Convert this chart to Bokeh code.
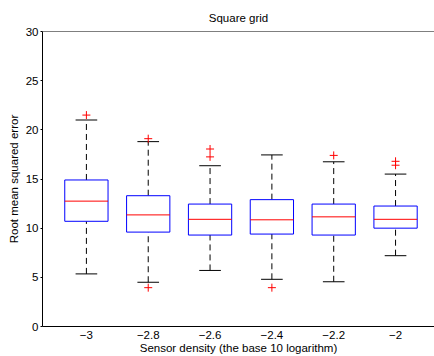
from bokeh.plotting import figure
from bokeh.models import Range1d, FixedTicker, Span, ColumnDataSource
from bokeh.embed import file_html
from bokeh.resources import INLINE

# ---- data ----
categories = ["\u22123", "\u22122.8", "\u22122.6", "\u22122.4", "\u22122.2", "\u22122"]
q1 = [10.7, 9.6, 9.3, 9.4, 9.3, 10.0]
median = [12.75, 11.35, 10.9, 10.85, 11.15, 10.9]
q3 = [14.9, 13.3, 12.45, 12.9, 12.45, 12.25]
lower_whisker = [5.35, 4.5, 5.7, 4.8, 4.55, 7.2]
upper_whisker = [21.0, 18.8, 16.35, 17.45, 16.75, 15.5]
outlier_group = [1, 2, 2, 3, 3, 4, 5, 6, 6]
outlier_value = [21.5, 19.1, 3.95, 18.05, 17.25, 3.95, 17.4, 16.8, 16.4]
y_ticks = [0, 5, 10, 15, 20, 25, 30]

FONT = "Liberation Sans"
BOX_W = 0.7
CAP_W = 0.35

pos = list(range(1, len(categories) + 1))

src = ColumnDataSource(dict(
    x=pos, q1=q1, med=median, q3=q3, lo=lower_whisker, hi=upper_whisker,
    bl=[p - BOX_W / 2 for p in pos], br=[p + BOX_W / 2 for p in pos],
    cl=[p - CAP_W / 2 for p in pos], cr=[p + CAP_W / 2 for p in pos],
))

p = figure(width=434, height=356, output_backend="svg", toolbar_location=None,
           x_range=Range1d(0.29, 6.63), y_range=Range1d(0, 30),
           min_border_left=42, min_border_right=0, min_border_top=31, min_border_bottom=30,
           title="Square grid")
p.outline_line_color = None
p.xgrid.visible = False
p.ygrid.visible = False
p.background_fill_color = "white"
p.border_fill_color = "white"

p.title.align = "center"
p.title.text_font = FONT
p.title.text_font_size = "11.5px"
p.title.text_font_style = "normal"
p.title.text_color = "black"
p.title.standoff = 16

# axes
xa = p.xaxis[0]
xa.ticker = FixedTicker(ticks=pos)
xa.major_label_overrides = {pp: c for pp, c in zip(pos, categories)}
xa.major_tick_out = 0
xa.major_tick_in = 0
xa.minor_tick_out = 0
xa.minor_tick_in = 0
xa.major_label_standoff = 4
xa.axis_label = "Sensor density (the base 10 logarithm)"
xa.axis_label_standoff = 0

ya = p.yaxis[0]
ya.ticker = FixedTicker(ticks=y_ticks)
ya.major_tick_out = 2
ya.major_tick_in = 0
ya.minor_tick_out = 0
ya.minor_tick_in = 0
ya.major_label_standoff = 2
ya.axis_label = "Root mean squared error"
ya.axis_label_standoff = 3

for ax in (xa, ya):
    ax.axis_line_color = "black"
    ax.axis_line_width = 1
    ax.major_tick_line_color = "black"
    ax.major_label_text_font = FONT
    ax.major_label_text_font_size = "11.5px"
    ax.major_label_text_color = "black"
    ax.axis_label_text_font = FONT
    ax.axis_label_text_font_size = "11.5px"
    ax.axis_label_text_font_style = "normal"
    ax.axis_label_text_color = "black"

# top frame line
p.add_layout(Span(location=30, dimension="width", line_color="black", line_width=1))

# whiskers (dashed)
p.segment(x0="x", x1="x", y0="q3", y1="hi", source=src, line_color="black",
          line_width=1, line_dash="6 4")
p.segment(x0="x", x1="x", y0="lo", y1="q1", source=src, line_color="black",
          line_width=1, line_dash="6 4")
# caps
p.segment(x0="cl", x1="cr", y0="hi", y1="hi", source=src, line_color="black", line_width=1)
p.segment(x0="cl", x1="cr", y0="lo", y1="lo", source=src, line_color="black", line_width=1)
# boxes
p.vbar(x="x", width=BOX_W, bottom="q1", top="q3", source=src,
       fill_color="white", line_color="#0000ff", line_width=1)
# medians
p.segment(x0="bl", x1="br", y0="med", y1="med", source=src, line_color="#ff0000", line_width=1)
# outliers
p.scatter(x=outlier_group, y=outlier_value, marker="cross", size=8,
          line_color="#ff0000", line_width=1)

open("out.html", "w").write(file_html(p, INLINE))
